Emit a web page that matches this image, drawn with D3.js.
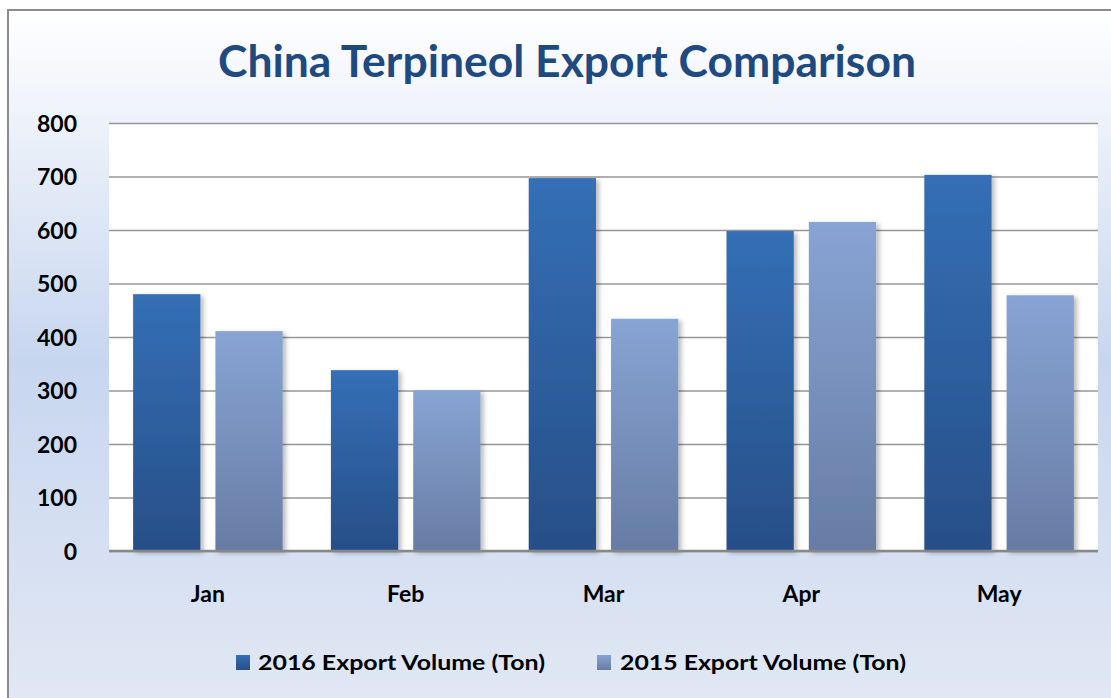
<!DOCTYPE html>
<html><head><meta charset="utf-8">
<script src="https://cdn.jsdelivr.net/npm/d3@7"></script>
<style>html,body{margin:0;padding:0;background:#fff;overflow:hidden}</style>
</head><body>
<svg id="chart" width="1111" height="698"></svg>
<script>
const title = "China Terpineol Export Comparison";
const categories = ["Jan", "Feb", "Mar", "Apr", "May"];
const seriesNames = ["2016 Export Volume (Ton)", "2015 Export Volume (Ton)"];
const values2016 = [480, 338, 697, 598, 703];
const values2015 = [411, 300, 434, 615, 478];
const yTicks = [0, 100, 200, 300, 400, 500, 600, 700, 800];

const svg = d3.select("#chart");
const plot = {left: 109, right: 1098, top: 123, bottom: 551};
const font = "Lato, 'Open Sans', sans-serif";

const defs = svg.append("defs");
const bg = defs.append("linearGradient").attr("id", "bg").attr("x1", 0).attr("y1", 0).attr("x2", 0).attr("y2", 1);
bg.append("stop").attr("offset", "0%").attr("stop-color", "#ffffff");
bg.append("stop").attr("offset", "50%").attr("stop-color", "#c7d6ef");
bg.append("stop").attr("offset", "100%").attr("stop-color", "#e2e8f4");

const gradDefs = [
  {id: "g2016", top: "#346fb6", bottom: "#274f88"},
  {id: "g2015", top: "#88a4d4", bottom: "#677ca4"}
];
gradDefs.forEach(g => {
  const lg = defs.append("linearGradient").attr("id", g.id).attr("x1", 0).attr("y1", 0).attr("x2", 0).attr("y2", 1);
  lg.append("stop").attr("offset", "0%").attr("stop-color", g.top);
  lg.append("stop").attr("offset", "100%").attr("stop-color", g.bottom);
});
const f = defs.append("filter").attr("id", "shadow").attr("x", "-20%").attr("y", "-10%").attr("width", "150%").attr("height", "130%");
f.append("feDropShadow").attr("dx", 3).attr("dy", 2).attr("stdDeviation", 2.5).attr("flood-color", "#000").attr("flood-opacity", 0.28);

// background + border
svg.append("rect").attr("x", 8).attr("y", 10).attr("width", 1115).attr("height", 700)
  .attr("fill", "url(#bg)").attr("stroke", "#8c8c8c").attr("stroke-width", 2);

// title
svg.append("text").attr("x", 567).attr("y", 77).attr("text-anchor", "middle")
  .attr("font-family", font).attr("font-weight", "bold").attr("font-size", 44)
  .attr("fill", "#1f4a80").attr("textLength", 698).attr("lengthAdjust", "spacingAndGlyphs")
  .text(title);

// plot area
svg.append("rect").attr("x", plot.left).attr("y", plot.top)
  .attr("width", plot.right - plot.left).attr("height", plot.bottom - plot.top).attr("fill", "#fff");

const x = d3.scaleBand().domain(categories).range([plot.left, plot.right]).paddingInner(0).paddingOuter(0);
const y = d3.scaleLinear().domain([0, 800]).range([plot.bottom, plot.top]);

// gridlines + y labels
const yAxis = d3.axisLeft(y).tickValues(yTicks).tickSize(-(plot.right - plot.left)).tickPadding(32).tickFormat(d3.format("d"));
const gy = svg.append("g").attr("transform", `translate(${plot.left},0)`).call(yAxis);
gy.select(".domain").remove();
gy.selectAll(".tick line").attr("stroke", "#979797").attr("stroke-width", 1.6);
gy.selectAll(".tick text").attr("font-family", font).attr("font-weight", "bold")
  .attr("font-size", 23).attr("fill", "#000").attr("dy", "0.36em");

// bars
const inner = d3.scaleBand().domain([0, 1]).range([0, x.bandwidth()]).paddingInner(0.183).paddingOuter(0.293);
const data = [];
categories.forEach((c, i) => {
  data.push({c, s: 0, v: values2016[i]});
  data.push({c, s: 1, v: values2015[i]});
});
svg.append("g").attr("filter", "url(#shadow)").selectAll("rect").data(data).join("rect")
  .attr("x", d => x(d.c) + inner(d.s))
  .attr("width", inner.bandwidth())
  .attr("y", d => y(d.v))
  .attr("height", d => y(0) - y(d.v))
  .attr("fill", d => d.s === 0 ? "url(#g2016)" : "url(#g2015)");

// baseline
svg.append("line").attr("x1", plot.left).attr("x2", plot.right).attr("y1", y(0)).attr("y2", y(0))
  .attr("stroke", "#888").attr("stroke-width", 2.5);

// x axis labels
const xAxis = d3.axisBottom(x).tickSize(0).tickPadding(35);
const gx = svg.append("g").attr("transform", `translate(0,${plot.bottom})`).call(xAxis);
gx.select(".domain").remove();
gx.selectAll(".tick text").attr("font-family", font).attr("font-weight", "bold")
  .attr("font-size", 23).attr("fill", "#000").attr("dy", "0.71em");

// legend
const legend = [
  {name: seriesNames[0], fill: "url(#g2016)", sx: 236, tx: 258, tw: 287},
  {name: seriesNames[1], fill: "url(#g2015)", sx: 597, tx: 620, tw: 286}
];
const lg = svg.append("g");
legend.forEach(l => {
  lg.append("rect").attr("x", l.sx).attr("y", 655).attr("width", 14).attr("height", 15).attr("fill", l.fill);
  lg.append("text").attr("x", l.tx).attr("y", 670).attr("font-family", font).attr("font-weight", "bold")
    .attr("font-size", 21).attr("fill", "#000").attr("textLength", l.tw).attr("lengthAdjust", "spacingAndGlyphs")
    .text(l.name);
});
</script>
</body></html>
